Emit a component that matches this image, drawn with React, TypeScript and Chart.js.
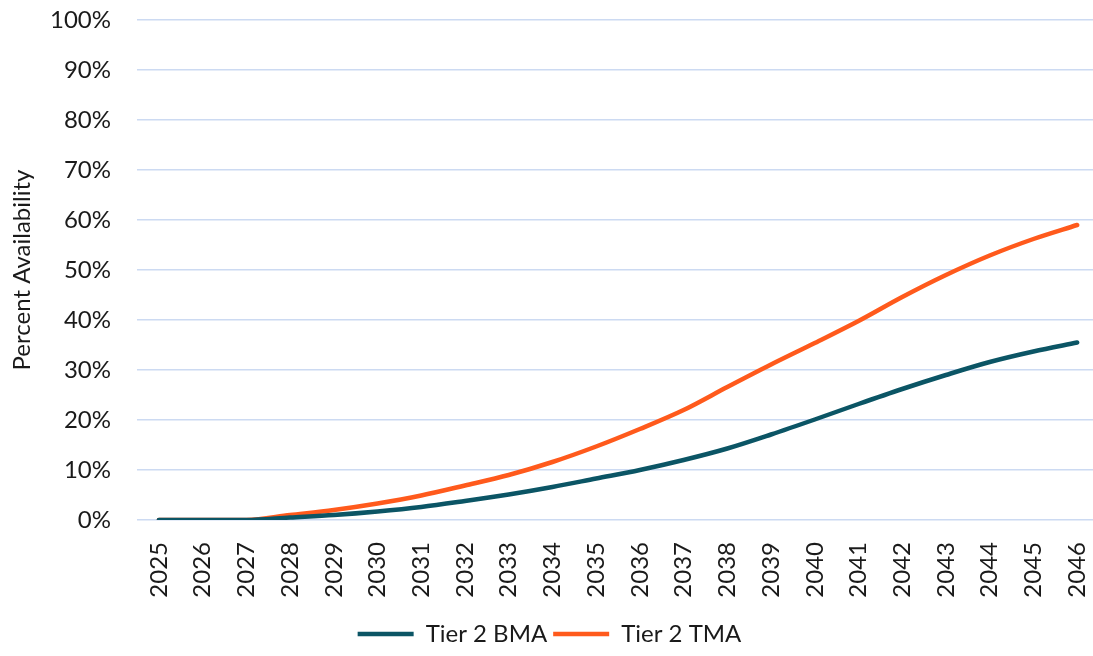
import React, { useEffect, useRef } from "react";
import { Chart, registerables } from "chart.js";

Chart.register(...registerables);

const years = [
  "2025", "2026", "2027", "2028", "2029", "2030", "2031", "2032", "2033", "2034", "2035",
  "2036", "2037", "2038", "2039", "2040", "2041", "2042", "2043", "2044", "2045", "2046",
];
const tier2BMA = [0, 0, 0, 0.5, 1.0, 1.7, 2.6, 3.8, 5.1, 6.6, 8.3, 10.0, 12.0, 14.3, 17.1, 20.1, 23.2, 26.2, 29.0, 31.6, 33.7, 35.5];
const tier2TMA = [0, 0, 0, 1.0, 2.0, 3.3, 4.9, 6.9, 9.0, 11.6, 14.7, 18.2, 22.0, 26.6, 31.1, 35.4, 39.8, 44.6, 49.0, 52.9, 56.2, 59.0];

const FONT = "Lato, 'Open Sans', sans-serif";
const FS = 24;

export default function App() {
  const ref = useRef<HTMLCanvasElement | null>(null);
  useEffect(() => {
    if (!ref.current) return;
    const chart = new Chart(ref.current, {
      type: "line",
      data: {
        labels: years,
        datasets: [
          {
            label: "Tier 2 BMA",
            data: tier2BMA,
            borderColor: "#0B5565",
            backgroundColor: "#0B5565",
            borderWidth: 4.5,
            borderCapStyle: "round",
            pointRadius: 0,
            cubicInterpolationMode: "monotone",
          },
          {
            label: "Tier 2 TMA",
            data: tier2TMA,
            borderColor: "#FF5A1C",
            backgroundColor: "#FF5A1C",
            borderWidth: 4.5,
            borderCapStyle: "round",
            pointRadius: 0,
            cubicInterpolationMode: "monotone",
          },
        ],
      },
      options: {
        animation: false,
        responsive: false,
        maintainAspectRatio: false,
        layout: { padding: { top: 20, right: 1, left: 0, bottom: 0 } },
        plugins: {
          legend: {
            position: "bottom",
            labels: {
              usePointStyle: true,
              pointStyle: "line",
              pointStyleWidth: 56,
              color: "#1a1a1a",
              font: { family: FONT, size: FS },
              padding: 6,
            },
          },
          tooltip: { enabled: false },
        },
        scales: {
          x: {
            offset: true,
            grid: { display: false },
            border: { display: false },
            ticks: {
              minRotation: 90,
              maxRotation: 90,
              padding: 14,
              color: "#1a1a1a",
              font: { family: FONT, size: FS },
            },
            afterFit: (s: any) => {
              s.height = 96;
              s.paddingLeft = 0;
              s.paddingRight = 0;
            },
          },
          y: {
            min: 0,
            max: 100,
            grid: { color: "#CCDAF2", lineWidth: 1.5, drawTicks: false },
            border: { display: false },
            ticks: {
              stepSize: 10,
              padding: 26,
              color: "#1a1a1a",
              font: { family: FONT, size: FS },
              callback: (v: any) => v + "%",
            },
            title: {
              display: true,
              text: "Percent Availability",
              color: "#1a1a1a",
              font: { family: FONT, size: FS },
              padding: { top: 8, bottom: 0 },
            },
            afterFit: (s: any) => {
              s.width = 137;
              s.paddingTop = 0;
              s.paddingBottom = 0;
            },
          },
        },
      },
    });
    return () => chart.destroy();
  }, []);
  return (
    <div style={{ position: "absolute", left: 0, top: 0, width: 1093, height: 656, overflow: "hidden", background: "#fff" }}>
      <canvas ref={ref} width={1100} height={656} style={{ display: "block" }} />
    </div>
  );
}
